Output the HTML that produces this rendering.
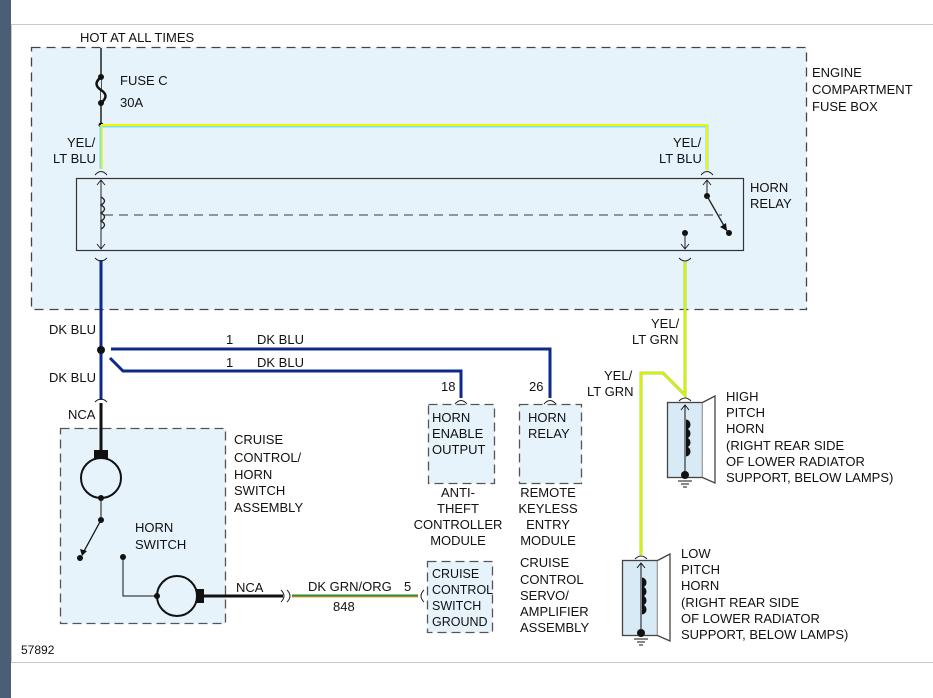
<!DOCTYPE html>
<html><head><meta charset="utf-8"><style>
body{margin:0;background:#fff}
svg{display:block}
text{font-family:"Liberation Sans",Arial,sans-serif;font-size:13px;fill:#111}
</style></head><body>
<svg width="933" height="698" viewBox="0 0 933 698" xmlns="http://www.w3.org/2000/svg">
<rect x="0" y="0" width="933" height="698" fill="#fff"/>
<rect x="0" y="0" width="11" height="698" fill="#4b5e73"/>
<rect x="11.5" y="24.5" width="930" height="638" fill="none" stroke="#c8c8c8"/>
<!-- fuse box -->
<rect x="31.5" y="47.5" width="775" height="262" fill="#e6f3fb" stroke="#444" stroke-dasharray="9,6" stroke-width="1.3"/>
<text x="80" y="42">HOT AT ALL TIMES</text>
<line x1="101" y1="48" x2="101" y2="125" stroke="#222" stroke-width="1.5"/>
<path d="M101 77 C95 82,95 86,101 90 C107 94,107 98,101 103" fill="#e6f3fb" stroke="#111" stroke-width="2.5"/>
<circle cx="101" cy="77" r="3" fill="#111"/><circle cx="101" cy="103" r="3" fill="#111"/>
<text x="120" y="85">FUSE C</text><text x="120" y="107">30A</text>
<circle cx="101" cy="125" r="2.5" fill="#111"/>
<polyline points="101,126 707,126 707,170" fill="none" stroke="#78e0ee" stroke-width="3"/>
<polyline points="101,125 707,125 707,170" fill="none" stroke="#f4f400" stroke-width="2"/>
<line x1="101" y1="125" x2="101" y2="169" stroke="#78e0ee" stroke-width="3"/>
<line x1="102" y1="125" x2="102" y2="169" stroke="#f4f400" stroke-width="1.5"/>
<text x="67" y="147">YEL/</text><text x="53" y="163">LT BLU</text>
<text x="673" y="147">YEL/</text><text x="659" y="163">LT BLU</text>
<text x="812" y="77">ENGINE</text><text x="812" y="94">COMPARTMENT</text><text x="812" y="111">FUSE BOX</text>
<!-- relay -->
<path d="M95 175 Q101 168 107 175 M701 175 Q707 168 713 175" fill="none" stroke="#222"/>
<rect x="76.5" y="178.5" width="667" height="72" fill="#e6f3fb" stroke="#333" stroke-width="1.2"/>
<line x1="104" y1="215" x2="722" y2="215" stroke="#777" stroke-width="1.5" stroke-dasharray="9,6"/>
<line x1="101" y1="180" x2="101" y2="249" stroke="#222"/>
<path d="M97 185 L101 180 L105 185 M97 244 L101 249 L105 244" fill="none" stroke="#222"/>
<path d="M101 197 q7 4 0 8 q7 4 0 8 q7 4 0 8 q7 4 0 8" fill="none" stroke="#222" stroke-width="1.3"/>
<path d="M95 258 Q101 264 107 258" fill="none" stroke="#222"/>
<text x="750" y="192">HORN</text><text x="750" y="208">RELAY</text>
<line x1="707" y1="180" x2="707" y2="196" stroke="#222"/>
<path d="M703 185 L707 180 L711 185" fill="none" stroke="#222"/>
<circle cx="707" cy="196" r="3" fill="#111"/>
<line x1="707" y1="196" x2="727" y2="231" stroke="#222" stroke-width="1.3"/>
<path d="M720 227 L727 231 L726 223 Z" fill="#111"/>
<circle cx="729" cy="233" r="3" fill="#111"/>
<circle cx="685" cy="233" r="3" fill="#111"/>
<line x1="685" y1="233" x2="685" y2="249" stroke="#222"/>
<path d="M681 244 L685 249 L689 244" fill="none" stroke="#222"/>
<path d="M679 258 Q685 264 691 258" fill="none" stroke="#222"/>
<!-- yel/lt grn -->
<polyline points="685,262 685,395 663,373 641,373 641,555" fill="none" stroke="#9adf40" stroke-width="3"/>
<polyline points="685,262 685,395 663,373 641,373 641,555" fill="none" stroke="#f0f000" stroke-width="1.5"/>
<text x="651" y="328">YEL/</text><text x="632" y="344">LT GRN</text>
<text x="604" y="380">YEL/</text><text x="587" y="396">LT GRN</text>
<!-- blue wires -->
<line x1="101" y1="260" x2="101" y2="400" stroke="#0b2a8a" stroke-width="3"/>
<circle cx="101" cy="350" r="4" fill="#111"/>
<polyline points="111,349 550,349 550,398" fill="none" stroke="#0b2a8a" stroke-width="3"/>
<polyline points="110,358 123,371 461,371 461,398" fill="none" stroke="#0b2a8a" stroke-width="3"/>
<text x="49" y="334">DK BLU</text><text x="49" y="382">DK BLU</text>
<text x="226" y="344">1</text><text x="257" y="344">DK BLU</text>
<text x="226" y="367">1</text><text x="257" y="367">DK BLU</text>
<path d="M455 404 Q461 397 467 404 M544 404 Q550 397 556 404" fill="none" stroke="#222"/>
<text x="441" y="391">18</text><text x="529" y="391">26</text>
<rect x="428.5" y="404.5" width="66" height="79" fill="#e6f3fb" stroke="#555" stroke-dasharray="9,5" stroke-width="1.3"/>
<rect x="519.5" y="404.5" width="62" height="79" fill="#e6f3fb" stroke="#555" stroke-dasharray="9,5" stroke-width="1.3"/>
<text x="432" y="422">HORN</text><text x="432" y="438">ENABLE</text><text x="432" y="454">OUTPUT</text>
<text x="528" y="422">HORN</text><text x="528" y="438">RELAY</text>
<g text-anchor="middle"><text x="458" y="497">ANTI-</text><text x="458" y="513">THEFT</text><text x="458" y="529">CONTROLLER</text><text x="458" y="545">MODULE</text>
<text x="548" y="497">REMOTE</text><text x="548" y="513">KEYLESS</text><text x="548" y="529">ENTRY</text><text x="548" y="545">MODULE</text></g>
<!-- cruise switch assembly -->
<path d="M95 402 Q101 396 107 402" fill="none" stroke="#222"/>
<text x="68" y="419">NCA</text>
<rect x="60.5" y="428.5" width="165" height="195" fill="#e6f3fb" stroke="#555" stroke-dasharray="9,5" stroke-width="1.3"/>
<line x1="101" y1="403" x2="101" y2="450" stroke="#111" stroke-width="3"/>
<rect x="94" y="450" width="14" height="9" fill="#111"/>
<circle cx="101" cy="478" r="20" fill="none" stroke="#111" stroke-width="2"/>
<circle cx="101" cy="498" r="3" fill="#111"/>
<line x1="101" y1="498" x2="101" y2="520" stroke="#111"/>
<circle cx="101" cy="520" r="3" fill="#111"/>
<line x1="101" y1="520" x2="83" y2="553" stroke="#111" stroke-width="1.3"/>
<path d="M80 549 L82 556 L87 551 Z" fill="#111"/>
<circle cx="80" cy="558" r="3" fill="#111"/>
<circle cx="123" cy="557" r="3" fill="#111"/>
<polyline points="123,557 123,596 157,596" fill="none" stroke="#111"/>
<circle cx="177" cy="596" r="20" fill="none" stroke="#111" stroke-width="2"/>
<circle cx="157" cy="596" r="3" fill="#111"/>
<rect x="196" y="589" width="8" height="14" fill="#111"/>
<line x1="204" y1="596" x2="283" y2="596" stroke="#111" stroke-width="3"/>
<text x="135" y="532">HORN</text><text x="135" y="549">SWITCH</text>
<text x="234" y="444">CRUISE</text><text x="234" y="462">CONTROL/</text><text x="234" y="479">HORN</text><text x="234" y="495">SWITCH</text><text x="234" y="512">ASSEMBLY</text>
<text x="236" y="592">NCA</text>
<path d="M281 590 Q287 596 281 602 M287 590 Q293 596 287 602" fill="none" stroke="#222"/>
<line x1="292" y1="596" x2="418" y2="596" stroke="#2e8b2e" stroke-width="3"/>
<line x1="292" y1="597" x2="418" y2="597" stroke="#e8a040" stroke-width="1"/>
<path d="M424 590 Q418 596 424 602" fill="none" stroke="#222"/>
<text x="308" y="591">DK GRN/ORG</text><text x="333" y="611">848</text><text x="404" y="591">5</text>
<rect x="427.5" y="561.5" width="65" height="71" fill="#e6f3fb" stroke="#555" stroke-dasharray="9,5" stroke-width="1.3"/>
<g style="font-size:12.5px"><text x="432" y="578" style="font-size:12.5px">CRUISE</text><text x="432" y="594" style="font-size:12.5px">CONTROL</text><text x="432" y="610" style="font-size:12.5px">SWITCH</text><text x="432" y="626" style="font-size:12.5px">GROUND</text></g>
<text x="520" y="567">CRUISE</text><text x="520" y="584">CONTROL</text><text x="520" y="600">SERVO/</text><text x="520" y="616">AMPLIFIER</text><text x="520" y="632">ASSEMBLY</text>
<!-- high horn -->
<path d="M679 401 Q685 395 691 401" fill="none" stroke="#222"/>
<rect x="667.5" y="402.5" width="35" height="75" fill="#d9eaf7" stroke="#444" stroke-width="1.3"/>
<path d="M702.5 402.5 L715 396 L715 483 L702.5 477.5" fill="#fff" stroke="#444" stroke-width="1.3"/>
<line x1="685" y1="405" x2="685" y2="475" stroke="#111"/>
<path d="M681 410 L685 405 L689 410" fill="none" stroke="#111"/>
<path d="M686 420 a4 4.5 0 0 1 0 9 a4 4.5 0 0 1 0 9 a4 4.5 0 0 1 0 9 a4 4.5 0 0 1 0 9" fill="#111" stroke="#111"/>
<circle cx="685" cy="475" r="4" fill="#111"/>
<path d="M678 481 H692 M681 484 H689 M683 487 H687" stroke="#111"/>
<text x="726" y="401">HIGH</text><text x="726" y="417">PITCH</text><text x="726" y="433">HORN</text><text x="726" y="450">(RIGHT REAR SIDE</text><text x="726" y="466">OF LOWER RADIATOR</text><text x="726" y="482">SUPPORT, BELOW LAMPS)</text>
<!-- low horn -->
<path d="M635 559 Q641 553 647 559" fill="none" stroke="#222"/>
<rect x="622.5" y="560.5" width="35" height="75" fill="#d9eaf7" stroke="#444" stroke-width="1.3"/>
<path d="M657.5 560.5 L670 554 L670 641 L657.5 635.5" fill="#fff" stroke="#444" stroke-width="1.3"/>
<line x1="641" y1="563" x2="641" y2="633" stroke="#111"/>
<path d="M637 568 L641 563 L645 568" fill="none" stroke="#111"/>
<path d="M642 578 a4 4.5 0 0 1 0 9 a4 4.5 0 0 1 0 9 a4 4.5 0 0 1 0 9 a4 4.5 0 0 1 0 9" fill="#111" stroke="#111"/>
<circle cx="641" cy="633" r="4" fill="#111"/>
<path d="M634 639 H648 M637 642 H645 M639 645 H643" stroke="#111"/>
<text x="681" y="558">LOW</text><text x="681" y="574">PITCH</text><text x="681" y="590">HORN</text><text x="681" y="607">(RIGHT REAR SIDE</text><text x="681" y="623">OF LOWER RADIATOR</text><text x="681" y="639">SUPPORT, BELOW LAMPS)</text>
<text x="21" y="654" style="font-size:12px">57892</text>
</svg>
</body></html>
